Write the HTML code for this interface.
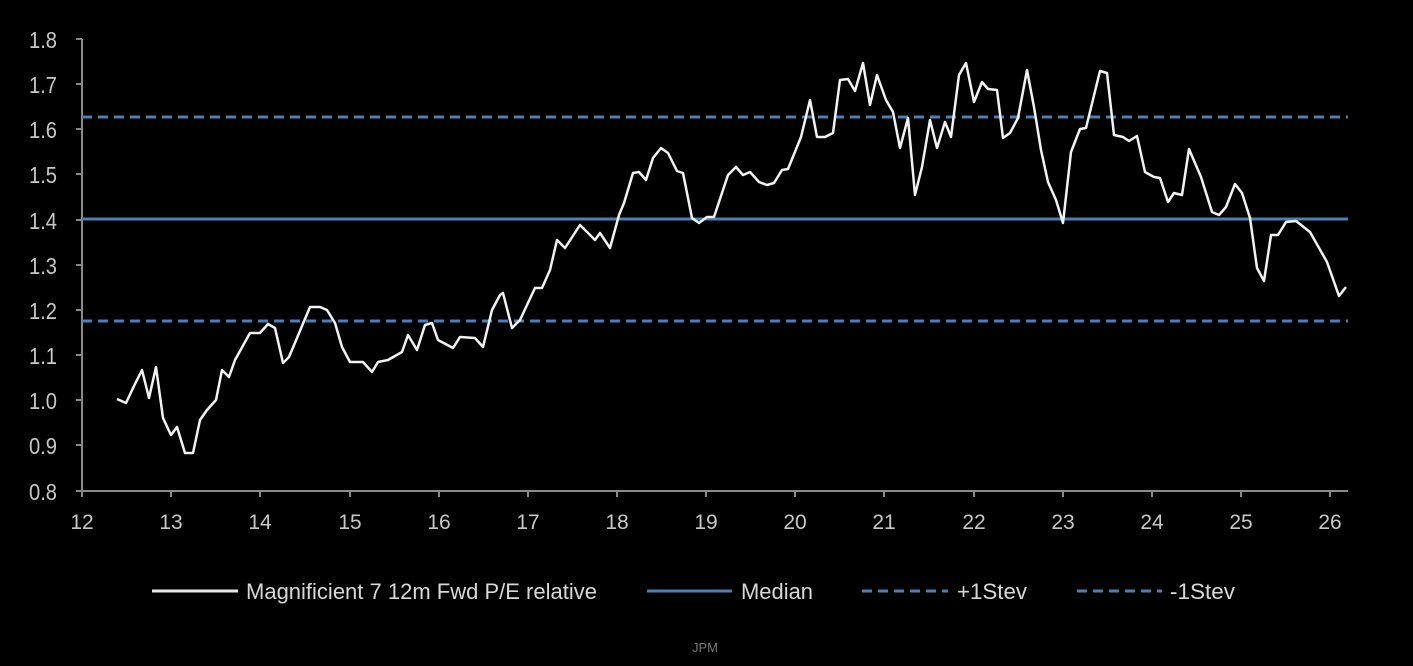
<!DOCTYPE html>
<html><head><meta charset="utf-8"><style>
html,body{margin:0;padding:0;background:#000;}
svg{display:block;}
text{font-family:"Liberation Sans",Arial,sans-serif;}
</style></head><body>
<svg width="1413" height="666" viewBox="0 0 1413 666" xmlns="http://www.w3.org/2000/svg">
<rect width="1413" height="666" fill="#000"/>
<g stroke="#8a8a8a" stroke-width="2" fill="none">
<line x1="82" y1="39" x2="82" y2="491"/>
<line x1="82" y1="491" x2="1348" y2="491"/>
<path d="M76 39H82M76 84H82M76 129H82M76 174H82M76 220H82M76 265H82M76 310H82M76 355H82M76 400H82M76 445H82M76 491H82"/>
<path d="M82 491V497M171 491V497M260 491V497M350 491V497M439 491V497M528 491V497M617 491V497M706 491V497M795 491V497M884 491V497M974 491V497M1063 491V497M1152 491V497M1241 491V497M1330 491V497"/>
</g>
<g fill="#c8c8c8" font-size="23" text-anchor="end">
<text x="57" y="48" textLength="28" lengthAdjust="spacingAndGlyphs">1.8</text><text x="57" y="93" textLength="28" lengthAdjust="spacingAndGlyphs">1.7</text><text x="57" y="138" textLength="28" lengthAdjust="spacingAndGlyphs">1.6</text><text x="57" y="183" textLength="28" lengthAdjust="spacingAndGlyphs">1.5</text><text x="57" y="229" textLength="28" lengthAdjust="spacingAndGlyphs">1.4</text><text x="57" y="274" textLength="28" lengthAdjust="spacingAndGlyphs">1.3</text><text x="57" y="319" textLength="28" lengthAdjust="spacingAndGlyphs">1.2</text><text x="57" y="364" textLength="28" lengthAdjust="spacingAndGlyphs">1.1</text><text x="57" y="409" textLength="28" lengthAdjust="spacingAndGlyphs">1.0</text><text x="57" y="454" textLength="28" lengthAdjust="spacingAndGlyphs">0.9</text><text x="57" y="500" textLength="28" lengthAdjust="spacingAndGlyphs">0.8</text>
</g>
<g fill="#c8c8c8" font-size="21" text-anchor="middle">
<text x="82" y="529">12</text><text x="171" y="529">13</text><text x="260" y="529">14</text><text x="350" y="529">15</text><text x="439" y="529">16</text><text x="528" y="529">17</text><text x="617" y="529">18</text><text x="706" y="529">19</text><text x="795" y="529">20</text><text x="884" y="529">21</text><text x="974" y="529">22</text><text x="1063" y="529">23</text><text x="1152" y="529">24</text><text x="1241" y="529">25</text><text x="1330" y="529">26</text>
</g>
<g stroke="#4a80b8" stroke-width="3" fill="none">
<line x1="82" y1="219" x2="1348" y2="219"/>
<line x1="82" y1="117" x2="1348" y2="117" stroke-dasharray="10 6"/>
<line x1="82" y1="321" x2="1348" y2="321" stroke-dasharray="10 6"/>
</g>
<polyline fill="none" stroke="#f2f2f2" stroke-width="2.5" stroke-linejoin="round" points="117,399 126,403 134,386 142,370 149,398 156,367 163,418 171,435 177,427 185,453 193,453 200,420 207,410 216,400 222,370 229,377 235,360 250,333 260,333 268,324 275,328 283,363 289,357 310,307 320,307 327,310 335,323 342,347 350,362 363,362 372,372 378,362 388,360 402,352 408,335 417,350 425,325 432,323 438,340 453,348 460,337 475,338 483,347 492,310 500,295 503,293 512,328 520,320 535,288 542,288 550,270 557,240 565,248 580,225 595,240 600,233 610,248 619,215 624,203 633,173 639,172 646,180 653,158 661,148 668,153 677,171 683,173 692,218 699,223 707,217 714,217 728,175 736,167 743,175 750,172 759,182 767,185 774,183 782,170 788,169 801,137 810,100 817,137 825,137 833,133 840,80 848,79 855,91 863,63 870,105 877,75 886,100 893,112 900,148 908,118 915,195 922,167 930,120 937,148 945,122 951,137 959,75 966,63 974,102 982,82 988,89 997,90 1003,138 1010,133 1018,118 1027,70 1034,107 1041,150 1048,182 1056,200 1063,223 1071,152 1080,129 1086,128 1100,71 1107,73 1114,135 1123,137 1129,141 1137,136 1145,172 1154,177 1160,178 1168,202 1174,193 1182,195 1189,149 1201,177 1212,212 1219,215 1226,207 1235,184 1242,193 1250,218 1257,268 1264,281 1271,235 1278,235 1286,222 1296,221 1310,232 1327,262 1339,296 1346,287"/>
<g stroke-width="3">
<line x1="152" y1="591" x2="238" y2="591" stroke="#e8e8e8"/>
<line x1="647" y1="591" x2="732" y2="591" stroke="#4a80b8"/>
<line x1="862" y1="591" x2="948" y2="591" stroke="#4a80b8" stroke-dasharray="10 6"/>
<line x1="1077" y1="591" x2="1162" y2="591" stroke="#4a80b8" stroke-dasharray="10 6"/>
</g>
<g fill="#d8d8d8" font-size="22">
<text x="246" y="599" textLength="351" lengthAdjust="spacingAndGlyphs">Magnificient 7 12m Fwd P/E relative</text>
<text x="741" y="599" textLength="72" lengthAdjust="spacingAndGlyphs">Median</text>
<text x="957" y="599" textLength="70" lengthAdjust="spacingAndGlyphs">+1Stev</text>
<text x="1170" y="599" textLength="65" lengthAdjust="spacingAndGlyphs">-1Stev</text>
</g>
<text x="705" y="652" fill="#7a7a7a" font-size="13" text-anchor="middle">JPM</text>
</svg>
</body></html>
